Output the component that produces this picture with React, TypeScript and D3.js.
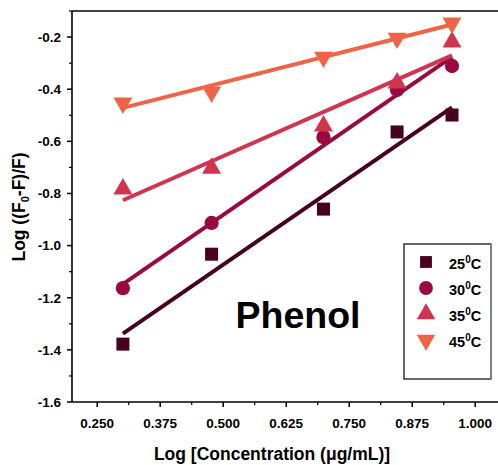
import React from "react";
import * as d3 from "d3";

// Log concentration values (log 2, 3, 5, 7, 9)
const logConc = [0.301, 0.477, 0.699, 0.845, 0.954];

// Log((F0-F)/F) at each temperature
const t25 = [-1.378, -1.033, -0.86, -0.564, -0.499];
const t30 = [-1.163, -0.913, -0.584, -0.403, -0.311];
const t35 = [-0.783, -0.703, -0.541, -0.376, -0.219];
const t45 = [-0.453, -0.411, -0.277, -0.204, -0.146];

const seriesNames = ["25", "30", "35", "45"];
const seriesColors = ["#48001f", "#9a0a42", "#d0344f", "#ef6447"];
const seriesSymbols = [d3.symbolSquare, d3.symbolCircle, d3.symbolTriangle, d3.symbolTriangle];

const xTicks = [0.25, 0.375, 0.5, 0.625, 0.75, 0.875, 1.0];
const yTicks = [-1.6, -1.4, -1.2, -1.0, -0.8, -0.6, -0.4, -0.2];

const W = 498;
const H = 465;
const left = 72;
const top = 11;
const bottom = 402;

// least-squares line through a series
function fit(xs: number[], ys: number[]) {
  const mx = d3.mean(xs)!;
  const my = d3.mean(ys)!;
  let sxy = 0;
  let sxx = 0;
  xs.forEach((x, i) => {
    sxy += (x - mx) * (ys[i] - my);
    sxx += (x - mx) * (x - mx);
  });
  const b = sxy / sxx;
  const a = my - b * mx;
  return (x: number) => a + b * x;
}

export default function App() {
  const x = d3.scaleLinear().domain([0.2, 1.0]).range([left, left + 0.8 * 504]);
  const y = d3.scaleLinear().domain([-1.6, -0.1]).range([bottom, top]);
  const all = [t25, t30, t35, t45];
  const font = "Arial, 'Liberation Sans', sans-serif";
  const xMinor = d3.range(0, 7).map((i) => 0.3125 + i * 0.125).filter((v) => x(v) < W);
  const yMinor = d3.range(0, 8).map((i) => -1.5 + i * 0.2);
  const xEnd = Math.min(W, x(1.05));

  const symPath = (s: d3.SymbolType, size: number) => d3.symbol().type(s).size(size)()!;

  return (
    <svg width={W} height={H} style={{ position: "absolute", left: 0, top: 0, background: "#fff" }} fontFamily={font}>
      {/* fit lines */}
      {all.map((ys, k) => {
        const f = fit(logConc, ys);
        const x0 = logConc[0];
        const x1 = logConc[logConc.length - 1];
        return (
          <line key={"l" + k} x1={x(x0)} y1={y(f(x0))} x2={x(x1)} y2={y(f(x1))}
            stroke={seriesColors[k]} strokeWidth={4} />
        );
      })}
      {/* markers */}
      {all.map((ys, k) =>
        ys.map((v, i) => {
          const isDown = k === 3;
          const size = k === 0 ? 169 : k === 1 ? 160 : 155;
          return (
            <path key={"m" + k + "-" + i} d={symPath(seriesSymbols[k], size)}
              transform={`translate(${x(logConc[i])},${y(v)})${isDown ? " rotate(180)" : ""}`}
              fill={seriesColors[k]} />
          );
        })
      )}
      {/* axes frame */}
      <line x1={left} y1={top} x2={left} y2={bottom} stroke="#000" strokeWidth={1.6} />
      <line x1={left} y1={bottom} x2={xEnd} y2={bottom} stroke="#000" strokeWidth={1.6} />
      <line x1={left} y1={top} x2={xEnd} y2={top} stroke="#000" strokeWidth={1.6} />
      {/* y ticks */}
      {yTicks.map((t) => (
        <g key={"yt" + t}>
          <line x1={left - 5} x2={left} y1={y(t)} y2={y(t)} stroke="#000" strokeWidth={1.5} />
          <text x={left - 11} y={y(t)} dy="0.36em" textAnchor="end" fontSize={13.5} fontWeight="bold">
            {t.toFixed(1)}
          </text>
        </g>
      ))}
      {yMinor.map((t) => (
        <line key={"ym" + t} x1={left - 3} x2={left} y1={y(t)} y2={y(t)} stroke="#000" strokeWidth={1.2} />
      ))}
      {/* x ticks */}
      {xTicks.map((t) => (
        <g key={"xt" + t}>
          <line x1={x(t)} x2={x(t)} y1={bottom} y2={bottom + 5} stroke="#000" strokeWidth={1.5} />
          <text x={x(t)} y={bottom + 26} textAnchor="middle" fontSize={13.5} fontWeight="bold">
            {t.toFixed(3)}
          </text>
        </g>
      ))}
      {xMinor.map((t) => (
        <line key={"xm" + t} x1={x(t)} x2={x(t)} y1={bottom} y2={bottom + 3} stroke="#000" strokeWidth={1.2} />
      ))}
      {/* axis titles */}
      <text x={272} y={460} textAnchor="middle" fontSize={17.5} fontWeight="bold">
        Log [Concentration (μg/mL)]
      </text>
      <text transform="translate(25,207) rotate(-90)" textAnchor="middle" fontSize={17.5} fontWeight="bold">
        Log ((F<tspan fontSize={11} dy={4}>0</tspan><tspan dy={-4}>-F)/F)</tspan>
      </text>
      {/* compound label */}
      <text x={298} y={328} textAnchor="middle" fontSize={37.5} fontWeight="bold">Phenol</text>
      {/* legend */}
      <rect x={404} y={244} width={87} height={135} fill="#fff" stroke="#000" strokeWidth={1.2} />
      <line x1={491} y1={244} x2={491} y2={379} stroke="#888" strokeWidth={1.5} />
      {seriesNames.map((n, k) => {
        const cy = 262 + k * 26;
        return (
          <g key={"lg" + k}>
            <path d={symPath(seriesSymbols[k], k === 0 ? 140 : 150)}
              transform={`translate(426,${cy})${k === 3 ? " rotate(180)" : ""}`} fill={seriesColors[k]} />
            <text x={449} y={cy} dy="0.45em" fontSize={14.5} fontWeight="bold">
              {n}<tspan fontSize={10} dy={-6}>0</tspan><tspan dy={6}>C</tspan>
            </text>
          </g>
        );
      })}
    </svg>
  );
}
